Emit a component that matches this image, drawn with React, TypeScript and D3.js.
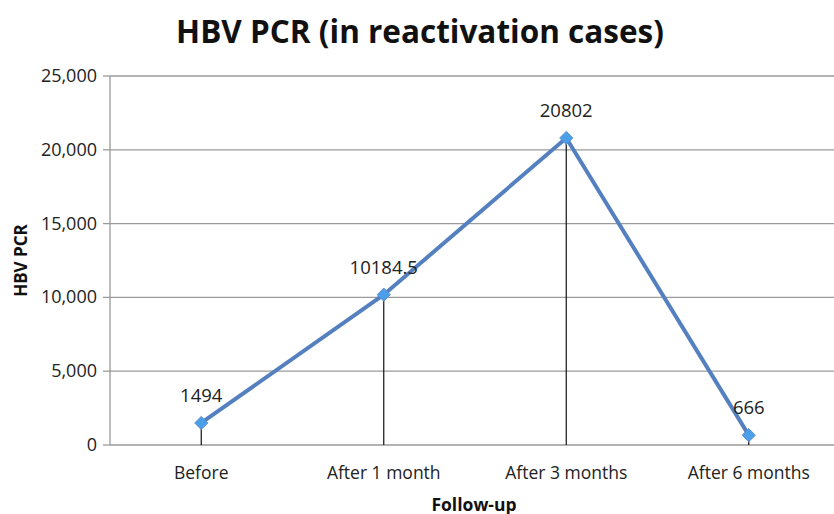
import React from "react";
import * as d3 from "d3";

const categories = ["Before", "After 1 month", "After 3 months", "After 6 months"];
const values = [1494, 10184.5, 20802, 666];
const labels = ["1494", "10184.5", "20802", "666"];
const yTicks = [0, 5000, 10000, 15000, 20000, 25000];

const W = 834;
const H = 514;
const left = 110;
const right = 840;
const top = 76;
const bottom = 445;

export default function App() {
  const x = d3.scaleBand<string>().domain(categories).range([left, right]);
  const y = d3.scaleLinear().domain([0, 25000]).range([bottom, top]);
  const cx = (c: string) => (x(c) ?? 0) + x.bandwidth() / 2;
  const line = d3
    .line<number>()
    .x((_, i) => cx(categories[i]))
    .y((d) => y(d));
  const fmt = d3.format(",");
  const font = "'Open Sans', 'Noto Sans', sans-serif";
  const diamond = d3.symbol().type(d3.symbolDiamond2).size(110)() as string;

  return (
    <svg
      width={W}
      height={H}
      style={{ position: "absolute", left: 0, top: 0, background: "#fff" }}
      fontFamily={font}
    >
      <text x={420} y={43} textAnchor="middle" fontSize={31.5} fontWeight="bold" fill="#111">
        HBV PCR (in reactivation cases)
      </text>
      {yTicks.map((t) => (
        <g key={t}>
          <line x1={left} x2={W} y1={y(t)} y2={y(t)} stroke="#9a9a9a" strokeWidth={1.3} />
          <line x1={left - 7} x2={left} y1={y(t)} y2={y(t)} stroke="#9a9a9a" strokeWidth={1.3} />
          <text x={left - 13} y={y(t) + 6} textAnchor="end" fontSize={18} fill="#222">
            {fmt(t)}
          </text>
        </g>
      ))}
      <line x1={left} x2={left} y1={top} y2={bottom} stroke="#9a9a9a" strokeWidth={1.3} />
      {categories.map((c, i) => (
        <g key={c}>
          <line x1={cx(c)} x2={cx(c)} y1={y(values[i])} y2={bottom} stroke="#111" strokeWidth={1.2} />
          <text x={cx(c)} y={479} textAnchor="middle" fontSize={17.5} fill="#222">
            {c}
          </text>
        </g>
      ))}
      <path d={line(values) ?? ""} fill="none" stroke="#5580c0" strokeWidth={4} />
      {values.map((v, i) => (
        <g key={i}>
          <path
            d={diamond}
            transform={`translate(${cx(categories[i])},${y(v)})`}
            fill="#4a9fe8"
            stroke="#5a8fd0"
            strokeWidth={1}
          />
          <text x={cx(categories[i])} y={y(v) - 21} textAnchor="middle" fontSize={18.5} fill="#222">
            {labels[i]}
          </text>
        </g>
      ))}
      <text
        transform={`translate(27,${(top + bottom) / 2}) rotate(-90)`}
        textAnchor="middle"
        fontSize={17}
        fontWeight="bold"
        fill="#111"
      >
        HBV PCR
      </text>
      <text x={474} y={511} textAnchor="middle" fontSize={17.5} fontWeight="bold" fill="#111">
        Follow-up
      </text>
    </svg>
  );
}
